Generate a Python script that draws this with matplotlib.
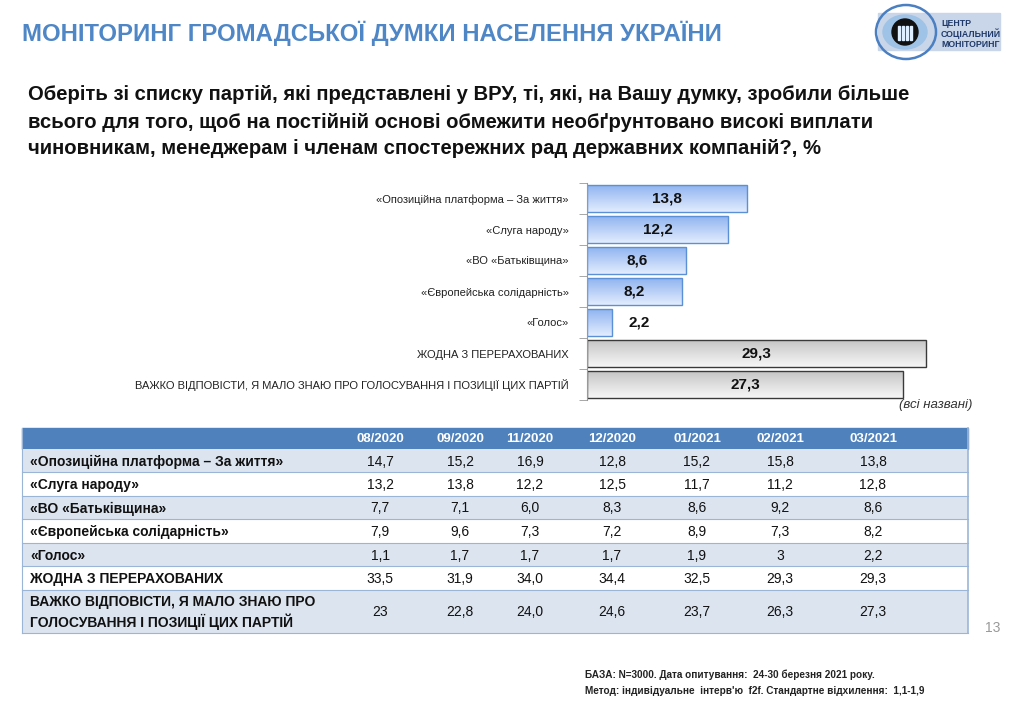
import matplotlib.pyplot as plt
import numpy as np
from matplotlib.patches import Rectangle, Ellipse, Circle
from matplotlib.colors import LinearSegmentedColormap

plt.rcParams['font.family'] = ['Liberation Sans', 'DejaVu Sans']

# data
bar_labels = ["«Опозиційна платформа – За життя»", "«Слуга народу»", "«ВО «Батьківщина»",
              "«Європейська солідарність»", "«Голос»", "ЖОДНА З ПЕРЕРАХОВАНИХ",
              "ВАЖКО ВІДПОВІСТИ, Я МАЛО ЗНАЮ ПРО ГОЛОСУВАННЯ І ПОЗИЦІЇ ЦИХ ПАРТІЙ"]
bar_values = [13.8, 12.2, 8.6, 8.2, 2.2, 29.3, 27.3]
bar_kind = ["party", "party", "party", "party", "party", "other", "other"]

months = ["08/2020", "09/2020", "11/2020", "12/2020", "01/2021", "02/2021", "03/2021"]
row_names = ["«Опозиційна платформа – За життя»", "«Слуга народу»", "«ВО «Батьківщина»",
             "«Європейська солідарність»", "«Голос»", "ЖОДНА З ПЕРЕРАХОВАНИХ",
             "ВАЖКО ВІДПОВІСТИ, Я МАЛО ЗНАЮ ПРО\nГОЛОСУВАННЯ І ПОЗИЦІЇ ЦИХ ПАРТІЙ"]
opzzh = ["14,7", "15,2", "16,9", "12,8", "15,2", "15,8", "13,8"]
sluha = ["13,2", "13,8", "12,2", "12,5", "11,7", "11,2", "12,8"]
batk = ["7,7", "7,1", "6,0", "8,3", "8,6", "9,2", "8,6"]
yes = ["7,9", "9,6", "7,3", "7,2", "8,9", "7,3", "8,2"]
holos = ["1,1", "1,7", "1,7", "1,7", "1,9", "3", "2,2"]
none_ = ["33,5", "31,9", "34,0", "34,4", "32,5", "29,3", "29,3"]
hard = ["23", "22,8", "24,0", "24,6", "23,7", "26,3", "27,3"]
table_values = [opzzh, sluha, batk, yes, holos, none_, hard]

W, H = 1024, 709
fig = plt.figure(figsize=(10.24, 7.09), dpi=100)

# background axes in pixel coords
bg = fig.add_axes([0, 0, 1, 1])
bg.set_xlim(0, W)
bg.set_ylim(H, 0)
bg.axis('off')

bg.text(22, 33, "МОНІТОРИНГ ГРОМАДСЬКОЇ ДУМКИ НАСЕЛЕННЯ УКРАЇНИ", fontsize=17.2, fontweight='bold',
        color='#4f86c6', va='center', ha='left')

question = ["Оберіть зі списку партій, які представлені у ВРУ, ті, які, на Вашу думку, зробили більше",
            "всього для того, щоб на постійній основі обмежити необґрунтовано високі виплати",
            "чиновникам, менеджерам і членам спостережних рад державних компаній?, %"]
for i, line in enumerate(question):
    bg.text(28, 95 + i * 27, line, fontsize=14.6, fontweight='bold', color='#111111', va='center', ha='left')

# logo
bg.add_patch(Rectangle((878, 13), 122, 37, color='#c9d5e8', zorder=1))
bg.add_patch(Ellipse((906, 32), 60, 54, fill=False, edgecolor='#4a7fc1', lw=1.8, zorder=2))
bg.add_patch(Ellipse((905, 32), 44, 34, color='#9fc3e6', zorder=2))
bg.add_patch(Circle((905, 32), 13, color='#111111', zorder=3))
for dx in (-6, -2, 2, 6):
    bg.add_patch(Rectangle((905 + dx - 1, 26), 2, 14, color='#dfefff', zorder=4))
bg.text(941, 19, "ЦЕНТР\nСОЦІАЛЬНИЙ\nМОНІТОРИНГ", fontsize=6.3, fontweight='bold', color='#1f3a6a',
        va='top', ha='left', linespacing=1.05, zorder=5)

bg.text(972, 405, "(всі названі)", fontsize=9.5, style='italic', color='#333333', ha='right', va='center')
bg.text(985, 628, "13", fontsize=10, color='#999999', ha='left', va='center')
bg.text(585, 675, "БАЗА: N=3000. Дата опитування:  24-30 березня 2021 року.", fontsize=7.2, fontweight='bold',
        color='#222222', va='center')
bg.text(585, 691, "Метод: індивідуальне  інтерв'ю  f2f. Стандартне відхилення:  1,1-1,9", fontsize=7.2,
        fontweight='bold', color='#222222', va='center')

# table
x0, x1 = 22, 968
col_x = [380, 460, 530, 612, 697, 780, 873]
row_edges = [428, 449, 472, 496, 519, 543, 566, 590, 633]
bg.add_patch(Rectangle((x0, row_edges[0]), x1 - x0, row_edges[1] - row_edges[0], color='#4f81bd', zorder=1))
for c, m in zip(col_x, months):
    bg.text(c, (row_edges[0] + row_edges[1]) / 2 + 1, m, fontsize=9.5, fontweight='bold', color='white',
            ha='center', va='center', zorder=3)
for i, (name, vals) in enumerate(zip(row_names, table_values)):
    top, bot = row_edges[i + 1], row_edges[i + 2]
    fc = '#dce4ef' if i % 2 == 0 else 'white'
    bg.add_patch(Rectangle((x0, top), x1 - x0, bot - top, facecolor=fc, edgecolor='none', zorder=1))
    bg.plot([x0, x1], [bot, bot], color='#9bb5d6', lw=0.8, zorder=2)
    bg.text(30, (top + bot) / 2 + 1, name, fontsize=10, fontweight='bold', color='#111111',
            ha='left', va='center', linespacing=1.4, zorder=3)
    for c, v in zip(col_x, vals):
        bg.text(c, (top + bot) / 2 + 1, v, fontsize=10, color='#111111', ha='center', va='center', zorder=3)
bg.plot([x0, x0], [row_edges[0], row_edges[-1]], color='#9bb5d6', lw=0.8, zorder=2)
bg.plot([x1, x1], [row_edges[0], row_edges[-1]], color='#9bb5d6', lw=1.2, zorder=2)

# bar chart
ax_l, ax_r, ax_t, ax_b = 587, 934, 183, 400
ax = fig.add_axes([ax_l / W, 1 - ax_b / H, (ax_r - ax_l) / W, (ax_b - ax_t) / H])
ax.patch.set_alpha(0)
n = len(bar_values)
ypos = np.arange(n)
blue_cmap = LinearSegmentedColormap.from_list('b', ['#e3edfd', '#8db2ef'])
gray_cmap = LinearSegmentedColormap.from_list('g', ['#f7f7f7', '#c4c4c4'])
bars = ax.barh(ypos, bar_values, height=0.9, color='none', zorder=2)
grad = np.linspace(0, 1, 64).reshape(-1, 1)
for b, kind, v in zip(bars, bar_kind, bar_values):
    yb = b.get_y()
    h = b.get_height()
    cmap = blue_cmap if kind == "party" else gray_cmap
    ec = '#5b8fd6' if kind == "party" else '#3a3a3a'
    im = ax.imshow(grad, extent=(0, v, yb, yb + h), cmap=cmap, aspect='auto', origin='upper', zorder=1)
    im.set_clip_path(b)
    b.set_edgecolor(ec)
    b.set_linewidth(1.0)
    if v > 4:
        ax.text(v / 2, b.get_y() + h / 2, f"{v:.1f}".replace('.', ','), ha='center', va='center',
                fontsize=11, fontweight='bold', color='#111111', zorder=3)
    else:
        ax.text(v + 1.4, b.get_y() + h / 2, f"{v:.1f}".replace('.', ','), ha='left', va='center',
                fontsize=11, fontweight='bold', color='#111111', zorder=3)
ax.set_xlim(0, 30)
ax.set_ylim(n - 0.5, -0.5)
ax.set_yticks(ypos)
ax.set_yticklabels(bar_labels, fontsize=8.0, color='#222222')
ax.tick_params(axis='y', length=0, pad=13)
ax.set_yticks(np.arange(n + 1) - 0.5, minor=True)
ax.tick_params(axis='y', which='minor', length=6, color='#999999')
ax.set_xticks([])
for s in ('top', 'right', 'bottom'):
    ax.spines[s].set_visible(False)
ax.spines['left'].set_color('#999999')

fig.savefig('out.png', dpi=100)
